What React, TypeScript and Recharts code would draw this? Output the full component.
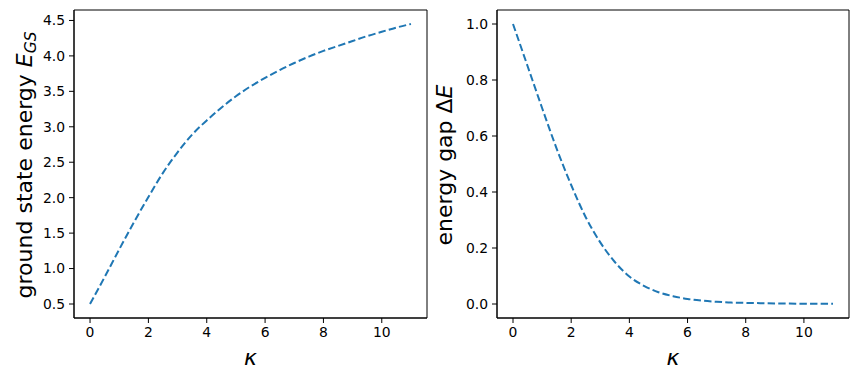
import { LineChart, Line, XAxis, YAxis, ReferenceArea } from 'recharts';

const kappa = [0, 0.5, 1, 1.5, 2, 2.5, 3, 3.5, 4, 4.5, 5, 5.5, 6, 6.5, 7, 7.5, 8, 8.5, 9, 9.5, 10, 10.5, 11];
const groundEnergy = [0.5, 0.88, 1.27, 1.65, 2.01, 2.35, 2.64, 2.89, 3.09, 3.27, 3.43, 3.57, 3.69, 3.8, 3.9, 3.99, 4.07, 4.14, 4.21, 4.28, 4.34, 4.4, 4.45];
const energyGap = [1.0, 0.85, 0.7, 0.555, 0.425, 0.31, 0.22, 0.15, 0.098, 0.065, 0.042, 0.028, 0.018, 0.012, 0.008, 0.005, 0.004, 0.003, 0.002, 0.0015, 0.001, 0.0007, 0.0005];

const xTicks = [0, 2, 4, 6, 8, 10];
const energyTicks = [0.5, 1.0, 1.5, 2.0, 2.5, 3.0, 3.5, 4.0, 4.5];
const gapTicks = [0, 0.2, 0.4, 0.6, 0.8, 1.0];

const X_DOMAIN: [number, number] = [-0.55, 11.55];
const ENERGY_DOMAIN: [number, number] = [0.3025, 4.6475];
const GAP_DOMAIN: [number, number] = [-0.05, 1.05];

const FONT = '"DejaVu Sans", sans-serif';
const LINE_COLOR = '#1f77b4';
const LABEL_SIZE = 22;

const rows = kappa.map((k, i) => ({ k, e: groundEnergy[i], gap: energyGap[i] }));

const tickStyle = { fontSize: 13.9, fill: '#000', fontFamily: FONT };

function KappaLabel({ x }: { x: number }) {
  return (
    <text x={x} y={365} textAnchor="middle" fontFamily={FONT} fontSize={LABEL_SIZE} fontStyle="italic" fill="#000">
      κ
    </text>
  );
}

function GroundLabel() {
  return (
    <text x={32} y={165} transform="rotate(-90, 32, 165)" textAnchor="middle" fontFamily={FONT} fontSize={LABEL_SIZE} fill="#000">
      ground state energy <tspan fontStyle="italic">E</tspan>
      <tspan fontStyle="italic" fontSize={15.4} dy={4}>GS</tspan>
    </text>
  );
}

function GapLabel() {
  return (
    <text x={22} y={165} transform="rotate(-90, 22, 165)" textAnchor="middle" fontFamily={FONT} fontSize={LABEL_SIZE} fill="#000">
      energy gap Δ<tspan fontStyle="italic">E</tspan>
    </text>
  );
}

export default function App() {
  return (
    <div style={{ position: 'absolute', left: 0, top: 0, width: 859, height: 380, background: '#fff' }}>
      <div style={{ position: 'absolute', left: 0, top: 0 }}>
        <LineChart width={430} height={380} data={rows} margin={{ top: 10, right: 3, bottom: 12, left: 10 }}>
          <XAxis
            dataKey="k"
            type="number"
            domain={X_DOMAIN}
            ticks={xTicks}
            allowDataOverflow
            height={50}
            tickSize={5}
            tickMargin={4}
            stroke="#000"
            tick={tickStyle}
            label={<KappaLabel x={250.5} />}
          />
          <YAxis
            type="number"
            domain={ENERGY_DOMAIN}
            ticks={energyTicks}
            allowDataOverflow
            width={64}
            tickSize={5}
            tickMargin={4}
            stroke="#000"
            tick={tickStyle}
            tickFormatter={(v: number) => v.toFixed(1)}
            label={<GroundLabel />}
          />
          <ReferenceArea x1={X_DOMAIN[0]} x2={X_DOMAIN[1]} y1={ENERGY_DOMAIN[0]} y2={ENERGY_DOMAIN[1]} fill="none" stroke="#000" strokeWidth={1} fillOpacity={0} />
          <Line
            dataKey="e"
            type="monotone"
            stroke={LINE_COLOR}
            strokeWidth={2}
            strokeDasharray="7.4 3.2"
            dot={false}
            isAnimationActive={false}
          />
        </LineChart>
      </div>
      <div style={{ position: 'absolute', left: 430, top: 0 }}>
        <LineChart width={429} height={380} data={rows} margin={{ top: 10, right: 10, bottom: 12, left: 3 }}>
          <XAxis
            dataKey="k"
            type="number"
            domain={X_DOMAIN}
            ticks={xTicks}
            allowDataOverflow
            height={50}
            tickSize={5}
            tickMargin={4}
            stroke="#000"
            tick={tickStyle}
            label={<KappaLabel x={243} />}
          />
          <YAxis
            type="number"
            domain={GAP_DOMAIN}
            ticks={gapTicks}
            allowDataOverflow
            width={64}
            tickSize={5}
            tickMargin={4}
            stroke="#000"
            tick={tickStyle}
            tickFormatter={(v: number) => v.toFixed(1)}
            label={<GapLabel />}
          />
          <ReferenceArea x1={X_DOMAIN[0]} x2={X_DOMAIN[1]} y1={GAP_DOMAIN[0]} y2={GAP_DOMAIN[1]} fill="none" stroke="#000" strokeWidth={1} fillOpacity={0} />
          <Line
            dataKey="gap"
            type="monotone"
            stroke={LINE_COLOR}
            strokeWidth={2}
            strokeDasharray="7.4 3.2"
            dot={false}
            isAnimationActive={false}
          />
        </LineChart>
      </div>
    </div>
  );
}
